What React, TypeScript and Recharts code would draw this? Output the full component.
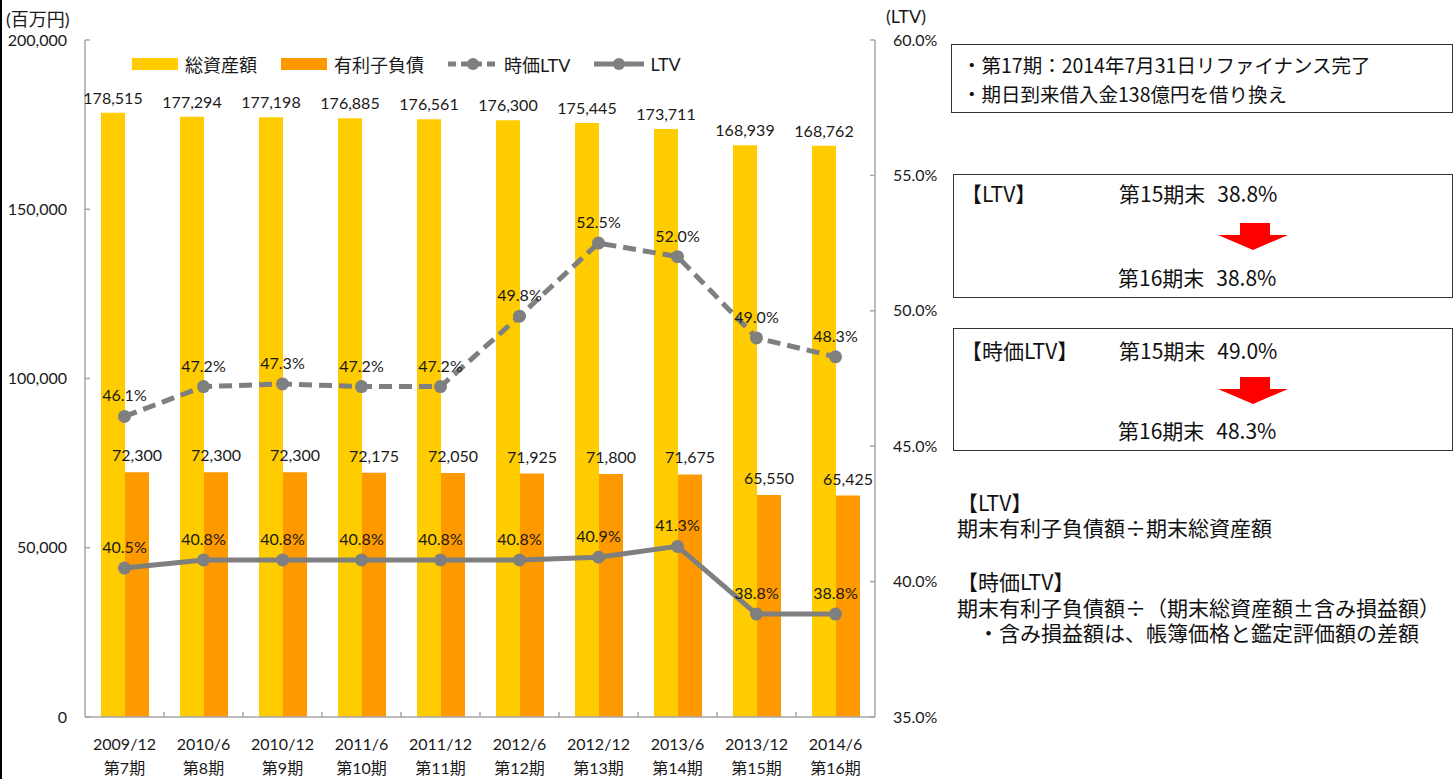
import React from 'react';
import { ComposedChart, Bar, Line, XAxis, YAxis, Legend, LabelList } from 'recharts';

const periods = ['2009/12', '2010/6', '2010/12', '2011/6', '2011/12', '2012/6', '2012/12', '2013/6', '2013/12', '2014/6'];
const terms = ['第7期', '第8期', '第9期', '第10期', '第11期', '第12期', '第13期', '第14期', '第15期', '第16期'];
const totalAssets = [178515, 177294, 177198, 176885, 176561, 176300, 175445, 173711, 168939, 168762];
const interestDebt = [72300, 72300, 72300, 72175, 72050, 71925, 71800, 71675, 65550, 65425];
const marketLtv = [46.1, 47.2, 47.3, 47.2, 47.2, 49.8, 52.5, 52.0, 49.0, 48.3];
const ltv = [40.5, 40.8, 40.8, 40.8, 40.8, 40.8, 40.9, 41.3, 38.8, 38.8];
const leftTicks = [0, 50000, 100000, 150000, 200000];
const rightTicks = [35, 40, 45, 50, 55, 60];

const data = periods.map((p, i) => ({
  period: p,
  term: terms[i],
  total: totalAssets[i],
  debt: interestDebt[i],
  mltv: marketLtv[i],
  ltv: ltv[i],
}));

const CHART_FONT = "Lato, 'Noto Sans CJK JP', sans-serif";
const PANEL_FONT = "'Noto Sans CJK JP', sans-serif";
const AXIS = '#A6A6A6';
const GRAY = '#7F7F7F';
const TXT = '#1a1a1a';

const fmtNum = (v: any) => Number(v).toLocaleString('en-US');
const fmtPct = (v: any) => `${Number(v).toFixed(1)}%`;

const XTick = (props: any) => {
  const { x, y, payload, index, width, visibleTicksCount } = props;
  const i = payload && typeof payload.index === 'number' ? payload.index : index;
  const half = width && visibleTicksCount ? width / visibleTicksCount / 2 : 39.5;
  return (
    <g>
      {i > 0 && (
        <line x1={x - half} x2={x - half} y1={y} y2={y - 5} stroke={AXIS} strokeWidth={1.5} />
      )}
      <text x={x} y={y + 26} textAnchor="middle" dominantBaseline="central" fontSize={16} fill={TXT} fontFamily={CHART_FONT}>
        {periods[i]}
      </text>
      <text x={x} y={y + 50} textAnchor="middle" dominantBaseline="central" fontSize={16} fill={TXT} fontFamily={CHART_FONT}>
        {terms[i]}
      </text>
    </g>
  );
};

const legendOrder = ['total', 'debt', 'mltv', 'ltv'];
const legendStyle: Record<string, { kind: string; color: string; dash?: string }> = {
  total: { kind: 'rect', color: '#FFCC00' },
  debt: { kind: 'rect', color: '#FF9900' },
  mltv: { kind: 'line', color: GRAY, dash: '8 5' },
  ltv: { kind: 'line', color: GRAY },
};

const renderLegend = (props: any) => {
  const items = [...(props.payload || [])].sort(
    (a: any, b: any) => legendOrder.indexOf(a.dataKey) - legendOrder.indexOf(b.dataKey)
  );
  return (
    <div style={{ display: 'flex', alignItems: 'center', fontFamily: CHART_FONT, fontSize: 18, color: TXT, whiteSpace: 'nowrap' }}>
      {items.map((entry: any) => {
        const st = legendStyle[entry.dataKey] || { kind: 'rect', color: entry.color };
        return (
          <div key={entry.dataKey} style={{ display: 'flex', alignItems: 'center', marginRight: 24 }}>
            {st.kind === 'rect' ? (
              <div style={{ width: 46, height: 12, background: st.color, marginRight: 7 }} />
            ) : (
              <svg width={50} height={14} style={{ marginRight: 6 }}>
                <line x1={0} x2={50} y1={7} y2={7} stroke={st.color} strokeWidth={5} strokeDasharray={st.dash} />
                <circle cx={25} cy={7} r={6} fill={st.color} />
              </svg>
            )}
            <span>{entry.value}</span>
          </div>
        );
      })}
    </div>
  );
};

const T = ({ left, cy, size = 21, children }: any) => (
  <div
    style={{
      position: 'absolute',
      left,
      top: cy - 12,
      height: 24,
      lineHeight: '24px',
      fontSize: size,
      fontFamily: PANEL_FONT,
      color: '#111',
      whiteSpace: 'nowrap',
    }}
  >
    {children}
  </div>
);

const Block = ({ left, cy, lh, size = 21, text }: any) => (
  <div
    style={{
      position: 'absolute',
      left,
      top: cy - lh / 2,
      lineHeight: `${lh}px`,
      fontSize: size,
      fontFamily: PANEL_FONT,
      color: '#111',
      whiteSpace: 'pre',
    }}
  >
    {text}
  </div>
);

const Val = ({ term, value }: { term: string; value: string }) => (
  <>
    {term}
    <span style={{ marginLeft: 12 }}>{value}</span>
  </>
);

const Arrow = ({ top }: { top: number }) => (
  <svg style={{ position: 'absolute', left: 1218, top }} width={70} height={27}>
    <polygon points="22,0 52,0 52,12 70,12 35,27 0,12 22,12" fill="#FF0000" />
  </svg>
);

const Box = ({ left, top, width, height }: any) => (
  <div
    style={{
      position: 'absolute',
      left,
      top,
      width,
      height,
      border: '1.5px solid #333',
      boxSizing: 'border-box',
    }}
  />
);

export default function App() {
  return (
    <div style={{ position: 'absolute', left: 0, top: 0, width: 1456, height: 779, background: '#fff', overflow: 'hidden' }}>
      <div style={{ position: 'absolute', left: 0, top: 0, width: 2, height: 779, background: '#000' }} />
      <div style={{ position: 'absolute', left: 0, top: 0 }}>
        <ComposedChart
          width={940}
          height={779}
          data={data}
          margin={{ top: 40, right: 0, bottom: 12, left: 0 }}
          barGap={0}
        >
          <XAxis
            dataKey="period"
            height={50}
            tickSize={0}
            tickMargin={0}
            tickLine={false}
            axisLine={{ stroke: AXIS, strokeWidth: 1.5 }}
            tick={<XTick />}
            interval={0}
          />
          <YAxis
            yAxisId="left"
            width={85}
            domain={[0, 200000]}
            ticks={leftTicks}
            tickFormatter={fmtNum}
            tickSize={-5}
            tickMargin={23}
            axisLine={{ stroke: AXIS, strokeWidth: 1.5 }}
            tickLine={{ stroke: AXIS, strokeWidth: 1.5 }}
            tick={{ fontSize: 16, fill: TXT, fontFamily: CHART_FONT }}
            allowDataOverflow
          />
          <YAxis
            yAxisId="right"
            orientation="right"
            width={65}
            domain={[35, 60]}
            ticks={rightTicks}
            tickFormatter={fmtPct}
            tickSize={-5}
            tickMargin={23}
            axisLine={{ stroke: AXIS, strokeWidth: 1.5 }}
            tickLine={{ stroke: AXIS, strokeWidth: 1.5 }}
            tick={{ fontSize: 16, fill: TXT, fontFamily: CHART_FONT }}
            allowDataOverflow
          />
          <Legend
            layout="vertical"
            align="center"
            verticalAlign="middle"
            wrapperStyle={{ top: 51, left: 132, width: 640 }}
            content={renderLegend}
          />
          <Bar yAxisId="left" dataKey="total" name="総資産額" fill="#FFCC00" barSize={24} isAnimationActive={false}>
            <LabelList dataKey="total" position="top" offset={9} formatter={fmtNum} style={{ fontSize: 16, fill: TXT, fontFamily: CHART_FONT }} />
          </Bar>
          <Bar yAxisId="left" dataKey="debt" name="有利子負債" fill="#FF9900" barSize={24} isAnimationActive={false}>
            <LabelList dataKey="debt" position="top" offset={11} formatter={fmtNum} style={{ fontSize: 16, fill: TXT, fontFamily: CHART_FONT }} />
          </Bar>
          <Line
            yAxisId="right"
            dataKey="mltv"
            name="時価LTV"
            stroke={GRAY}
            strokeWidth={5}
            strokeDasharray="13 7"
            dot={{ r: 6.5, fill: GRAY, stroke: 'none' }}
            activeDot={false}
            isAnimationActive={false}
          >
            <LabelList dataKey="mltv" position="top" offset={15} formatter={fmtPct} style={{ fontSize: 16, fill: TXT, fontFamily: CHART_FONT }} />
          </Line>
          <Line
            yAxisId="right"
            dataKey="ltv"
            name="LTV"
            stroke={GRAY}
            strokeWidth={5}
            dot={{ r: 6.5, fill: GRAY, stroke: 'none' }}
            activeDot={false}
            isAnimationActive={false}
          >
            <LabelList dataKey="ltv" position="top" offset={15} formatter={fmtPct} style={{ fontSize: 16, fill: TXT, fontFamily: CHART_FONT }} />
          </Line>
        </ComposedChart>
      </div>

      <div style={{ position: 'absolute', left: 6, top: 5, fontSize: 18, fontFamily: CHART_FONT, color: TXT, whiteSpace: 'nowrap' }}>(百万円)</div>
      <div style={{ position: 'absolute', left: 886, top: 5, fontSize: 18, fontFamily: CHART_FONT, color: TXT, whiteSpace: 'nowrap' }}>(LTV)</div>

      <Box left={951} top={44} width={502} height={69} />
      <Block left={962} cy={64} lh={29} size={19.5} text={'・第17期：2014年7月31日リファイナンス完了\n・期日到来借入金138億円を借り換え'} />

      <Box left={953} top={174} width={500} height={124} />
      <T left={961} cy={193}>【LTV】</T>
      <T left={1119} cy={193}><Val term="第15期末" value="38.8%" /></T>
      <Arrow top={223} />
      <T left={1118} cy={277}><Val term="第16期末" value="38.8%" /></T>

      <Box left={953} top={328} width={500} height={123} />
      <T left={961} cy={350}>【時価LTV】</T>
      <T left={1119} cy={350}><Val term="第15期末" value="49.0%" /></T>
      <Arrow top={377} />
      <T left={1118} cy={430}><Val term="第16期末" value="48.3%" /></T>

      <Block left={957} cy={502} lh={25} text={'【LTV】\n期末有利子負債額÷期末総資産額'} />
      <Block left={957} cy={582} lh={25.5} text={'【時価LTV】\n期末有利子負債額÷（期末総資産額±含み損益額）\n　・含み損益額は、帳簿価格と鑑定評価額の差額'} />
    </div>
  );
}
